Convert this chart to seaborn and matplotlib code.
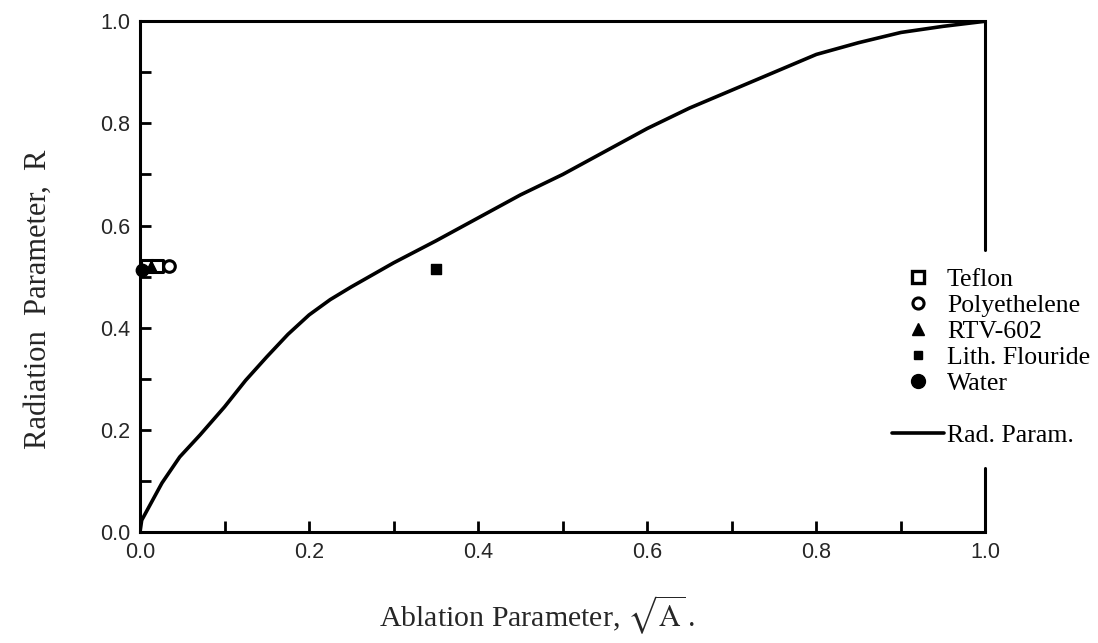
import matplotlib
matplotlib.use("Agg")
import matplotlib.pyplot as plt
from matplotlib.lines import Line2D
from matplotlib.ticker import MultipleLocator, FormatStrFormatter
import seaborn as sns
import pandas as pd

# Radiation parameter curve
curve_x = [0.0, 0.002, 0.026, 0.047, 0.071, 0.10, 0.125, 0.15, 0.175, 0.20, 0.225, 0.25,
           0.30, 0.35, 0.40, 0.45, 0.50, 0.55, 0.60, 0.65, 0.70, 0.75, 0.80, 0.85,
           0.90, 0.95, 1.0]
curve_y = [0.0, 0.023, 0.096, 0.147, 0.19, 0.245, 0.297, 0.343, 0.387, 0.425, 0.455, 0.48,
           0.527, 0.57, 0.615, 0.66, 0.70, 0.745, 0.79, 0.83, 0.865, 0.90, 0.935, 0.958,
           0.978, 0.99, 1.0]

# Material data points
materials = ["Teflon", "Polyethelene", "RTV-602", "Lith. Flouride", "Water"]
teflon_x = [0.008, 0.020]
teflon_y = [0.52, 0.52]
poly_x = [0.034]
poly_y = [0.52]
rtv_x = [0.013]
rtv_y = [0.52]
lith_x = [0.35]
lith_y = [0.515]
water_x = [0.002]
water_y = [0.513]

sns.set_theme(style="white")
plt.rcParams["font.family"] = ["Liberation Serif", "DejaVu Serif"]
plt.rcParams["mathtext.fontset"] = "stix"

fig = plt.figure(figsize=(10.98, 6.43), dpi=100)
ax = fig.add_axes([0.1275, 0.1726, 0.77, 0.7944])

df = pd.DataFrame({"x": curve_x, "y": curve_y})
sns.lineplot(data=df, x="x", y="y", ax=ax, color="black", lw=2.6, zorder=3)

styles = {
    "Teflon": dict(marker="s", facecolor="white", edgecolor="black", size=80, lw=2.2),
    "Polyethelene": dict(marker="o", facecolor="white", edgecolor="black", size=70, lw=2.2),
    "RTV-602": dict(marker="^", facecolor="black", edgecolor="black", size=60, lw=1),
    "Lith. Flouride": dict(marker="s", facecolor="black", edgecolor="black", size=45, lw=1),
    "Water": dict(marker="o", facecolor="black", edgecolor="black", size=80, lw=1),
}
pts = {"Teflon": (teflon_x, teflon_y), "Polyethelene": (poly_x, poly_y),
       "RTV-602": (rtv_x, rtv_y), "Lith. Flouride": (lith_x, lith_y),
       "Water": (water_x, water_y)}
for m in materials:
    st = styles[m]
    xs, ys = pts[m]
    sns.scatterplot(x=xs, y=ys, ax=ax, marker=st["marker"], s=st["size"],
                    color=st["facecolor"], edgecolor=st["edgecolor"],
                    linewidth=st["lw"], zorder=4, clip_on=False)

ax.set_xlim(0, 1)
ax.set_ylim(0, 1)
ax.xaxis.set_major_locator(MultipleLocator(0.2))
ax.xaxis.set_minor_locator(MultipleLocator(0.1))
ax.yaxis.set_major_locator(MultipleLocator(0.2))
ax.yaxis.set_minor_locator(MultipleLocator(0.1))
ax.tick_params(which="both", direction="in", length=8, width=2, color="black",
               bottom=True, left=True, top=False, right=False)
ax.tick_params(which="major", labelsize=15.5, pad=7)
ax.xaxis.set_major_formatter(FormatStrFormatter("%.1f"))
ax.yaxis.set_major_formatter(FormatStrFormatter("%.1f"))
for lab in ax.get_xticklabels() + ax.get_yticklabels():
    lab.set_family(["Liberation Sans", "DejaVu Sans"])

for s in ["left", "bottom", "top"]:
    ax.spines[s].set_linewidth(2.2)
    ax.spines[s].set_color("black")
ax.spines["right"].set_visible(False)
ax.axvline(1.0, ymin=0, ymax=0.125, color="black", lw=2.2, clip_on=False)
ax.axvline(1.0, ymin=0.552, ymax=1.0, color="black", lw=2.2, clip_on=False)

ax.set_xlabel(r"Ablation Parameter, $\sqrt{\mathrm{A}}\,$.", fontsize=21.5)
ax.xaxis.set_label_coords(0.469, -0.12)
ax.set_ylabel("Radiation  Parameter,  R", fontsize=22)
ax.yaxis.set_label_coords(-0.103, 0.455)

handles = [
    Line2D([], [], ls="none", marker="s", ms=9, mfc="white", mec="black", mew=2.4),
    Line2D([], [], ls="none", marker="o", ms=8, mfc="white", mec="black", mew=2.2),
    Line2D([], [], ls="none", marker="^", ms=8, mfc="black", mec="black"),
    Line2D([], [], ls="none", marker="s", ms=6, mfc="black", mec="black"),
    Line2D([], [], ls="none", marker="o", ms=10, mfc="black", mec="black"),
    Line2D([], [], ls="none"),
    Line2D([], [], color="black", lw=2.6),
]
labels = materials + ["", "Rad. Param."]
leg = ax.legend(handles, labels, loc="upper left", bbox_to_anchor=(0.89, 0.517),
                frameon=False, fontsize=18.5, handlelength=2.0, handletextpad=0.12,
                labelspacing=0.12, borderaxespad=0, borderpad=0)
for t in leg.get_texts():
    t.set_color("black")

fig.savefig("out.png", dpi=100, facecolor="white")
